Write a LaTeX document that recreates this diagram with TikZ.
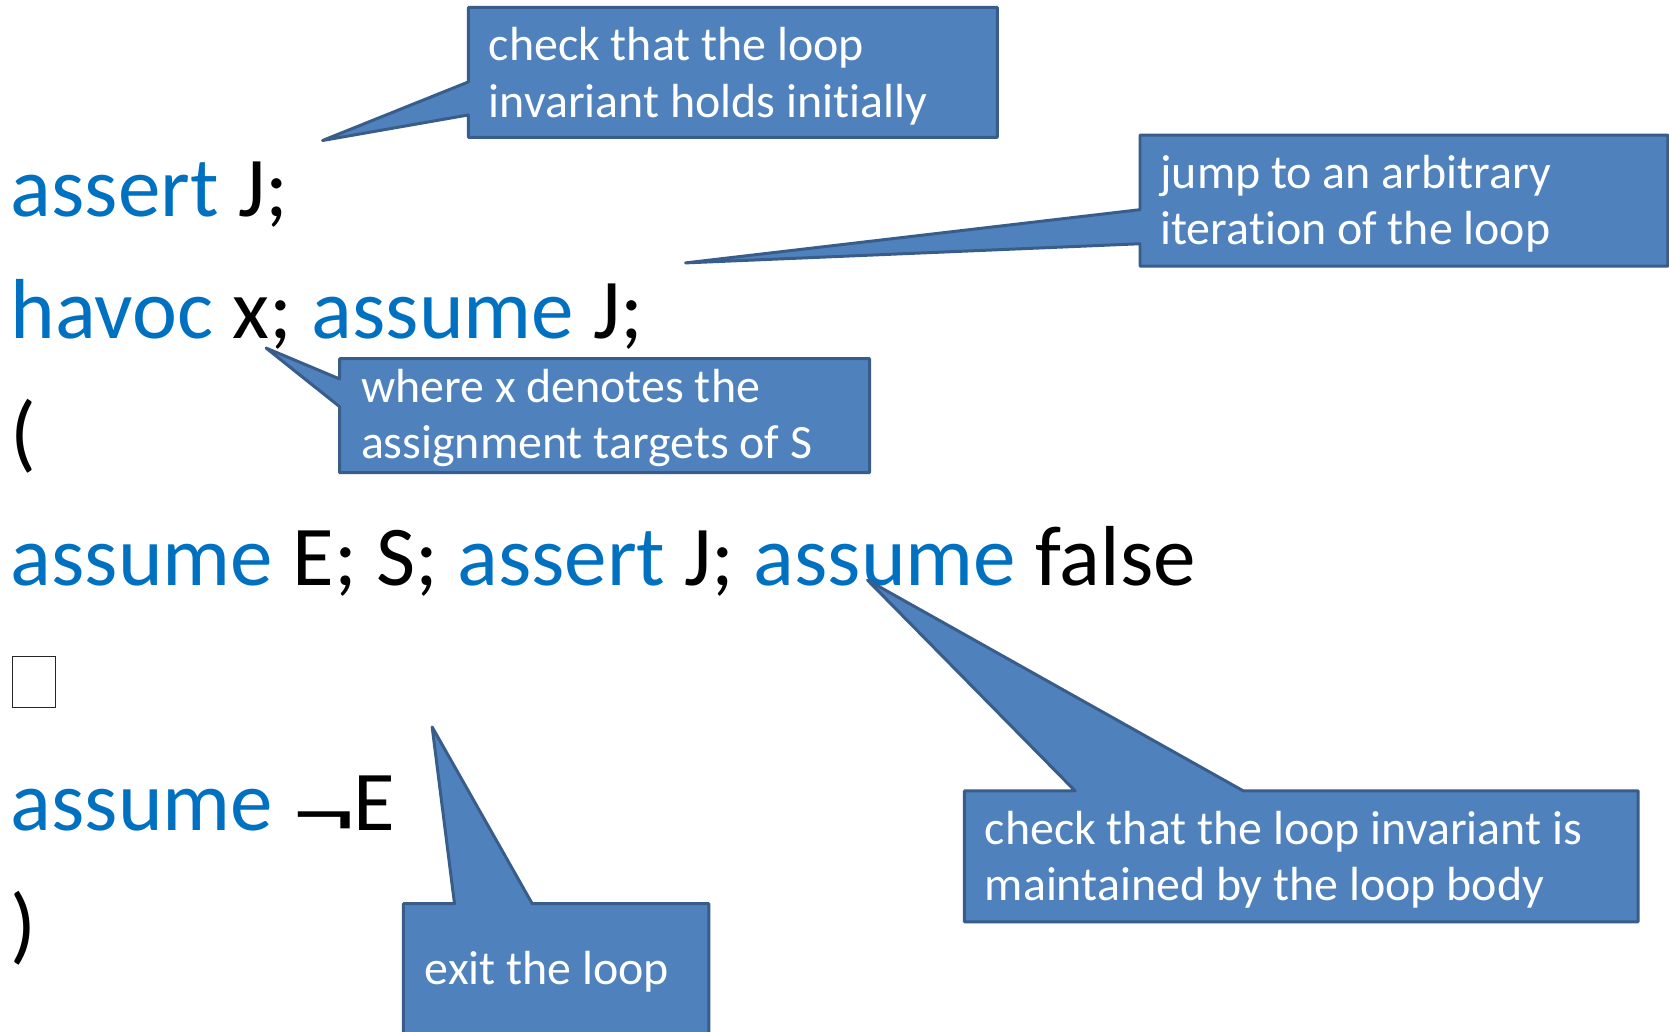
\documentclass[tikz,border=0pt]{standalone}
\usepackage{fontspec}
\usepackage{graphicx}
\setmainfont{Carlito}[Ligatures=NoCommon]
\definecolor{kwblue}{HTML}{0070C0}
\definecolor{cfill}{HTML}{4F81BD}
\definecolor{cedge}{HTML}{385D8A}
\tikzset{
 code/.style={anchor=base west, inner sep=0pt, font=\fontsize{80}{96}\selectfont, text=black},
 callout/.style={fill=cfill, draw=cedge, line width=2.8pt, line join=round},
 ctext/.style={anchor=base west, inner sep=0pt, align=left, text=white, font=\fontsize{45}{53}\selectfont},
}
\newcommand{\kwd}[1]{\textcolor{kwblue}{#1}}
\begin{document}
\begin{tikzpicture}[x=1pt,y=-1pt]
\clip (0,0) rectangle (1568,969);
\fill[white] (0,0) rectangle (1568,969);
% code lines
\node[code] (l1) at (10,203) {\kwd{assert} J;};
\node[code] (l2) at (10,318) {\kwd{havoc} x; \kwd{assume} J;};
\node[code] (l3) at (10,434) {(};
\node[code] (l4) at (10,550) {\kwd{assume} E; S; \kwd{assert} J; \kwd{assume} false};
\node[draw=black!85, line width=1.2pt, minimum width=40pt, minimum height=48pt, inner sep=0pt] (choice) at (32,641) {};
\node[code] (l6) at (10,780) {\kwd{assume} \raisebox{-11pt}{\scalebox{1.5}[1]{¬}}\kern-3ptE};
\node[code] (l7) at (10,896) {)};
% callout 1
\coordinate (t1) at (303,132);
\draw[callout] (440,7) -- (937,7) -- (937,129) -- (440,129) -- (440,108) -- (t1) -- (440,77) -- cycle;
\node[ctext] (c1) at (459,110) {check that the loop\\invariant holds initially};
% callout 2
\coordinate (t2) at (644,247);
\draw[callout] (1071,127) -- (1567,127) -- (1567,250) -- (1071,250) -- (1071,229) -- (t2) -- (1071,197) -- cycle;
\node[ctext] (c2) at (1090,230) {jump to an arbitrary\\iteration of the loop};
% callout 3
\coordinate (t3) at (250,327);
\draw[callout] (319,337) -- (817,337) -- (817,444) -- (319,444) -- (319,382) -- (t3) -- (319,356) -- cycle;
\node[ctext] (c3) at (339,431) {where x denotes the\\assignment targets of S};
% callout 4
\coordinate (t4) at (815,545);
\draw[callout] (906,743) -- (1010,743) -- (t4) -- (1168,743) -- (1539,743) -- (1539,866) -- (906,866) -- cycle;
\node[ctext] (c4) at (925,846) {check that the loop invariant is\\maintained by the loop body};
% callout 5
\coordinate (t5) at (406,683);
\draw[callout] (379,849) -- (427,849) -- (t5) -- (500,849) -- (666,849) -- (666,1000) -- (379,1000) -- cycle;
\node[ctext] (c5) at (399,925) {exit the loop};
\end{tikzpicture}
\end{document}
